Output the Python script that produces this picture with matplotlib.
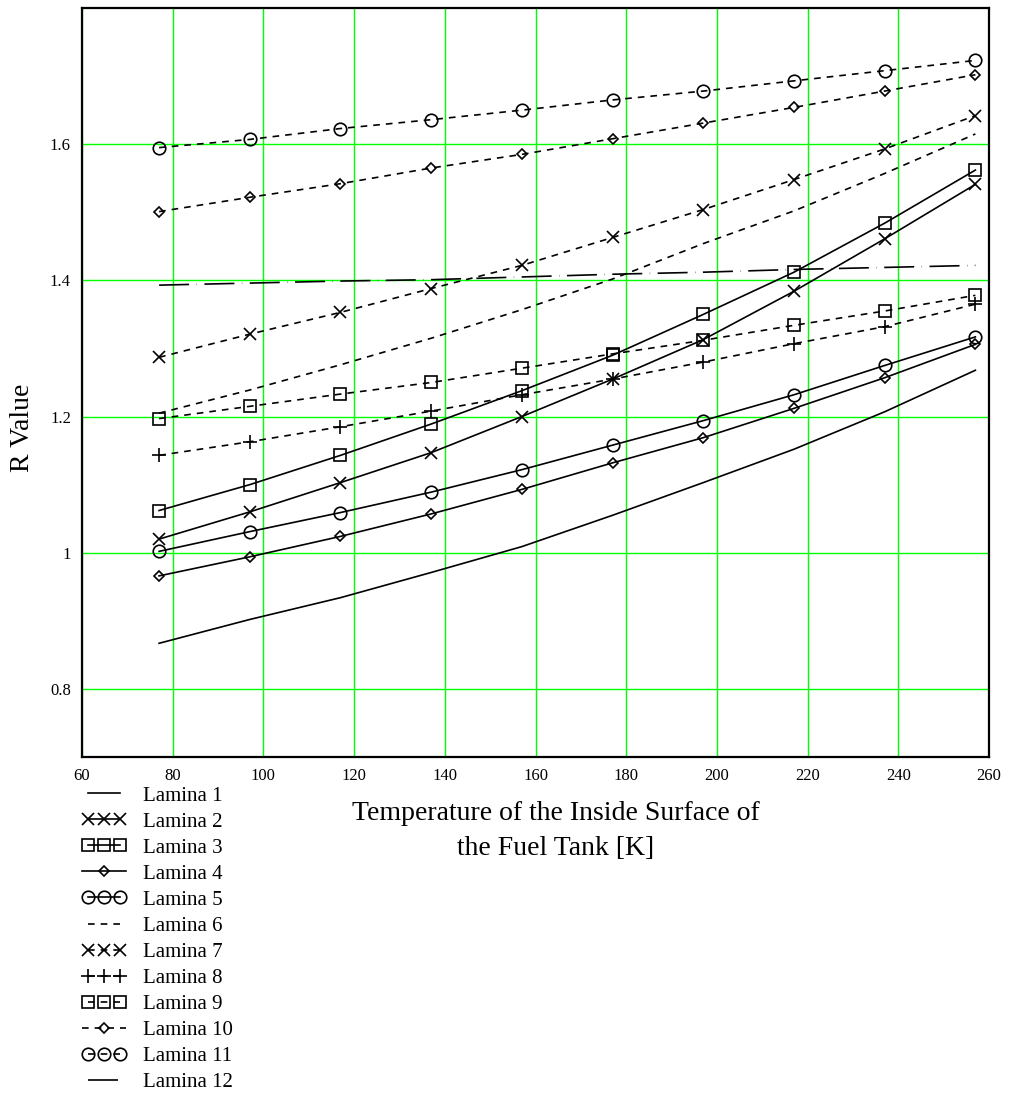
import matplotlib
matplotlib.use("Agg")
import matplotlib.pyplot as plt
from matplotlib.legend_handler import HandlerLine2D

plt.rcParams['font.family'] = ['Liberation Serif', 'DejaVu Serif']

# temperature of the inside surface [K]
temps = [77, 97, 117, 137, 157, 177, 197, 217, 237, 257]

lamina1 = [0.867, 0.902, 0.934, 0.971, 1.009, 1.055, 1.103, 1.152, 1.207, 1.268]
lamina2 = [1.020, 1.060, 1.103, 1.147, 1.200, 1.255, 1.313, 1.384, 1.461, 1.541]
lamina3 = [1.062, 1.100, 1.143, 1.189, 1.238, 1.290, 1.350, 1.412, 1.484, 1.562]
lamina4 = [0.966, 0.994, 1.024, 1.057, 1.093, 1.132, 1.169, 1.212, 1.257, 1.306]
lamina5 = [1.002, 1.031, 1.059, 1.089, 1.122, 1.158, 1.194, 1.232, 1.275, 1.317]
lamina6 = [1.205, 1.239, 1.276, 1.315, 1.357, 1.402, 1.454, 1.502, 1.557, 1.615]
lamina7 = [1.287, 1.321, 1.353, 1.388, 1.422, 1.463, 1.504, 1.548, 1.593, 1.642]
lamina8 = [1.143, 1.163, 1.185, 1.208, 1.232, 1.255, 1.280, 1.307, 1.332, 1.365]
lamina9 = [1.197, 1.215, 1.233, 1.250, 1.271, 1.292, 1.312, 1.334, 1.355, 1.378]
lamina10 = [1.501, 1.522, 1.542, 1.565, 1.585, 1.608, 1.631, 1.654, 1.678, 1.702]
lamina11 = [1.595, 1.607, 1.623, 1.636, 1.650, 1.665, 1.678, 1.693, 1.708, 1.723]
lamina12 = [1.393, 1.396, 1.399, 1.401, 1.405, 1.409, 1.412, 1.416, 1.419, 1.422]

xticks = [60, 80, 100, 120, 140, 160, 180, 200, 220, 240, 260]
yticks = [0.8, 1.0, 1.2, 1.4, 1.6]
ytick_labels = ['0.8', '1', '1.2', '1.4', '1.6']

solid = '-'
dots = (0, (4, 3.6))
longdash = (0, (18, 4.5, 0.2, 4.5))

series = [
    ('Lamina 1', lamina1, solid, None, 0),
    ('Lamina 2', lamina2, solid, 'x', 9),
    ('Lamina 3', lamina3, solid, 's', 8),
    ('Lamina 4', lamina4, solid, 'D', 5.6),
    ('Lamina 5', lamina5, solid, 'o', 9),
    ('Lamina 6', lamina6, dots, None, 0),
    ('Lamina 7', lamina7, dots, 'x', 9),
    ('Lamina 8', lamina8, dots, '+', 9.5),
    ('Lamina 9', lamina9, dots, 's', 8),
    ('Lamina 10', lamina10, dots, 'D', 5.6),
    ('Lamina 11', lamina11, dots, 'o', 9),
    ('Lamina 12', lamina12, longdash, None, 0),
]

fig = plt.figure(figsize=(10.12, 10.95), dpi=100)
ax = fig.add_axes([82 / 1012, 1 - 757 / 1095, 907 / 1012, 749 / 1095])

handler_map = {}
for name, vals, ls, mk, ms in series:
    line, = ax.plot(temps, vals, color='black', lw=1.2, linestyle=ls,
                    marker=mk, markersize=ms, markerfacecolor='none',
                    markeredgecolor='black', markeredgewidth=1.2, label=name)
    if mk == 'D':
        handler_map[line] = HandlerLine2D(numpoints=1)

ax.set_xlim(60, 260)
ax.set_ylim(0.7, 1.8)
ax.set_xticks(xticks)
ax.set_yticks(yticks)
ax.set_yticklabels(ytick_labels)
ax.tick_params(length=0, labelsize=12, pad=8)
ax.grid(True, color='#00ff00', lw=1.0)
ax.set_axisbelow(True)
for sp in ax.spines.values():
    sp.set_linewidth(1.6)
    sp.set_color('black')

fig.text(23 / 1012, 1 - 428 / 1095, 'R Value', rotation=90, fontsize=20,
         ha='center', va='center')
fig.text(556 / 1012, 1 - 801 / 1095,
         'Temperature of the Inside Surface of\nthe Fuel Tank [K]',
         fontsize=20, ha='center', va='top', linespacing=1.55)

h, l = ax.get_legend_handles_labels()
fig.legend(h, l, loc='upper left', bbox_to_anchor=(82 / 1012, 1 - 786 / 1095),
           frameon=False, fontsize=15, borderpad=0, borderaxespad=0,
           handlelength=2.11, handletextpad=0.82, labelspacing=0.31,
           numpoints=3, handler_map=handler_map)

fig.savefig('out.png', dpi=100)
